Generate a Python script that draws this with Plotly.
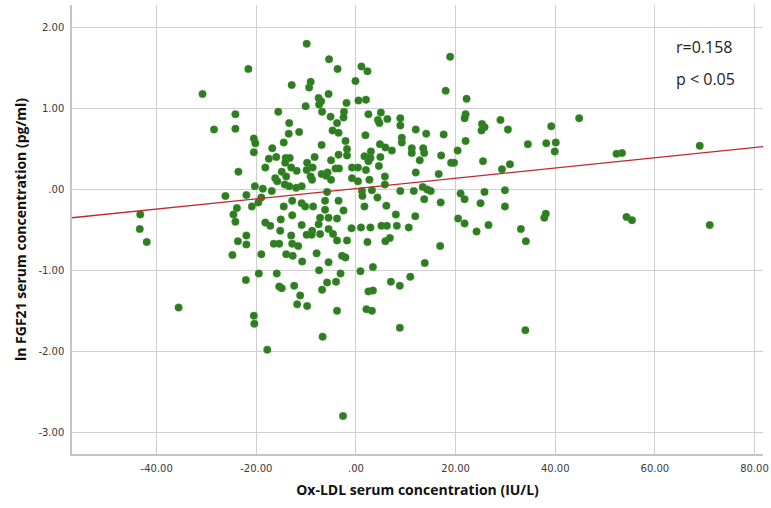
import plotly.graph_objects as go

# Ox-LDL serum concentration (IU/L) and ln FGF21 (pg/ml)
ox_ldl = [
    -9.9, -5.4, -3.7, -21.6, 1.1, 2.3, -0.1, -12.9, -9.1, -9.4, -30.8, -5.5, -7.5, -7.0, -7.4, -10.1,
    -1.9, 0.5, 2.0, -6.8, -15.6, -24.2, -2.4, -2.5, -5.1, 2.5, 5.0, 4.4, 6.3, 8.9, 8.9, -13.4, -3.8,
    4.7, -28.5, -24.2, -11.4, -13.5, -4.7, -3.5, 1.9, 12.0, -20.5, -20.2, -14.5, -6.9, -2.1, 9.2, 9.2,
    4.8, 5.9, 7.2, 11.2, -20.5, -16.8, -1.8, -1.8, -3.5, 3.0, 1.7, 2.9, 11.2, -16.0, -17.5, -14.1,
    -13.3, -8.3, -5.0, 4.9, 2.5, -9.8, -14.2, -18.2, -23.6, -13.0, -14.9, -11.9, -9.9, -8.7, -6.9,
    -5.7, -4.1, -3.4, -0.8, 0.4, 2.0, 4.6, 12.0, -16.2, -15.8, -14.0, -9.1, -8.8, -6.0, -5.0, -0.8,
    0.4, 2.7, 5.8, 5.8, -20.3, -14.3, -13.4, -12.0, -10.9, -18.7, -16.9, -5.8, 1.2, 3.2, 8.9, 11.6,
    -26.2, -22.0, -19.0, 1.3, 4.3, -19.6, -20.9, -23.9, -14.5, -12.8, -10.9, -10.2, -8.6, -6.2, -3.5,
    -6.2, -2.5, 1.7, 6.1, -24.6, -43.3, -12.8, -7.2, -5.5, -3.8, 8.0, 11.9, -24.2, -18.2, -15.1,
    -43.4, -17.2, -10.9, -7.5, -5.5, -0.9, 1.0, 2.9, 5.1, 6.2, 8.2, 10.6, -15.2, -8.8,
    18.9, 18.0, 22.2, 22.0, 21.8, 25.3, 25.8, 25.2, 29.0, 30.5, 44.8, 39.2, 14.1, 17.6, 22.0, 34.5,
    38.2, 40.1, 39.9, 13.5, 13.7, 12.8, 17.1, 20.4, 19.1, 19.7, 25.5, 30.9, 29.3, 16.6, 52.3, 53.4,
    69.0, 13.4, 14.3, 15.0, 13.7, 17.0, 21.0, 21.8, 25.8, 29.9, 25.0, 29.9, 20.5, 21.8, 24.2, 26.6,
    33.1, 37.8, 38.1, 54.3, 55.4, 71.0,
    -42.0, -22.0, -23.7, -22.0, -24.8, -19.0, -16.5, -15.4, -13.0, -12.8, -11.6, -14.0, -12.7, -10.8,
    -9.9, -8.9, -7.2, -4.6, -7.9, -5.5, -3.8, -2.8, -2.1, -1.8, 2.3, 5.9, 6.8, -22.1, -19.5, -15.9,
    -15.4, -14.9, -12.4, -11.2, -11.8, -9.8, -7.4, -6.8, -5.8, -4.0, -3.1, -3.8, -6.7, 0.9, 3.4, 2.5,
    3.4, 2.1, 3.2, 7.0, 8.8, 10.9, 8.8, -35.6, -20.5, -20.4, -17.8, -2.6,
    34.1, 16.9, 13.8, 34.0,
]
ln_fgf21 = [
    1.80, 1.61, 1.49, 1.49, 1.52, 1.46, 1.34, 1.29, 1.33, 1.26, 1.18, 1.18, 1.13, 1.09, 1.05, 1.03,
    1.07, 1.10, 1.11, 0.96, 0.96, 0.93, 0.96, 0.89, 0.90, 0.93, 0.95, 0.86, 0.87, 0.88, 0.79, 0.82, 0.82,
    0.82, 0.74, 0.75, 0.71, 0.69, 0.73, 0.70, 0.67, 0.74, 0.63, 0.57, 0.58, 0.55, 0.60, 0.64, 0.58,
    0.56, 0.52, 0.48, 0.51, 0.46, 0.51, 0.50, 0.42, 0.43, 0.47, 0.41, 0.39, 0.45, 0.40, 0.38, 0.39,
    0.39, 0.40, 0.36, 0.40, 0.35, 0.33, 0.33, 0.27, 0.22, 0.27, 0.22, 0.23, 0.24, 0.27, 0.19,
    0.21, 0.26, 0.26, 0.27, 0.27, 0.24, 0.29, 0.21, 0.14, 0.10, 0.16, 0.16, 0.12, 0.17, 0.12, 0.14,
    0.10, 0.12, 0.16, 0.06, 0.04, 0.06, 0.04, 0.02, 0.04, 0.01, -0.02, -0.03, -0.02, -0.01, -0.02, -0.02,
    -0.08, -0.07, -0.10, -0.08, -0.10, -0.16, -0.21, -0.23, -0.21, -0.14, -0.17, -0.21, -0.21, -0.14, -0.14,
    -0.25, -0.26, -0.21, -0.20, -0.31, -0.31, -0.32, -0.35, -0.35, -0.36, -0.31, -0.33, -0.40, -0.41, -0.37,
    -0.49, -0.45, -0.44, -0.43, -0.49, -0.48, -0.47, -0.47, -0.45, -0.45, -0.45, -0.47, -0.51, -0.51,
    1.64, 1.22, 1.12, 0.93, 0.88, 0.81, 0.77, 0.73, 0.86, 0.74, 0.88, 0.78, 0.69, 0.68, 0.60, 0.56,
    0.57, 0.58, 0.47, 0.51, 0.45, 0.36, 0.42, 0.48, 0.33, 0.33, 0.35, 0.31, 0.25, 0.19, 0.44, 0.45,
    0.54, 0.03, 0.00, -0.02, -0.12, -0.16, -0.05, -0.12, -0.03, -0.01, -0.17, -0.21, -0.36, -0.42, -0.52, -0.44,
    -0.49, -0.35, -0.30, -0.34, -0.38, -0.44,
    -0.65, -0.57, -0.64, -0.68, -0.81, -0.80, -0.67, -0.67, -0.57, -0.67, -0.70, -0.80, -0.82, -0.89,
    -0.56, -0.56, -0.55, -0.55, -0.79, -0.90, -0.63, -0.82, -0.84, -0.63, -0.65, -0.64, -0.60, -1.12, -1.04, -1.04,
    -1.20, -1.22, -1.19, -1.31, -1.42, -1.44, -1.00, -1.24, -1.15, -1.14, -1.04, -1.50, -1.82, -1.01, -0.96, -1.26,
    -1.25, -1.48, -1.50, -1.14, -1.19, -1.08, -1.71, -1.46, -1.56, -1.66, -1.98, -2.80,
    -0.64, -0.70, -0.91, -1.74,
]

# Fit line end points
fit_x = [-57.0, 81.8]
fit_y = [-0.35, 0.53]

x_ticks = [-40, -20, 0, 20, 40, 60, 80]
x_tick_labels = ["-40.00", "-20.00", ".00", "20.00", "40.00", "60.00", "80.00"]
y_ticks = [2, 1, 0, -1, -2, -3]
y_tick_labels = ["2.00", "1.00", ".00", "-1.00", "-2.00", "-3.00"]

annotation_lines = ["r=0.158", "p < 0.05"]

fig = go.Figure()
fig.add_trace(go.Scatter(
    x=ox_ldl, y=ln_fgf21, mode="markers",
    marker=dict(color="#2f7d21", size=7.5, line=dict(color="#3f8f30", width=0.5)),
    showlegend=False, hoverinfo="x+y",
))
fig.add_trace(go.Scatter(
    x=fit_x, y=fit_y, mode="lines",
    line=dict(color="#c2282d", width=1.3),
    showlegend=False, hoverinfo="skip",
))

grid_col = "#cfcfcf"
fig.update_layout(
    width=771, height=508,
    margin=dict(l=72, r=8, t=5, b=54),
    paper_bgcolor="white", plot_bgcolor="white",
    font=dict(family="DejaVu Sans", color="#333333"),
    xaxis=dict(
        range=[-57.0, 81.7], tickvals=x_ticks, ticktext=x_tick_labels,
        tickfont=dict(size=10, color="#3a3a3a", family="DejaVu Sans"),
        showgrid=True, gridcolor=grid_col, gridwidth=1,
        showline=True, linecolor="#c4c4c4", linewidth=1.5,
        zeroline=False, ticks="", ticklabelstandoff=4,
        title=dict(text="Ox-LDL serum concentration (IU/L)",
                   font=dict(family="Open Sans", size=14, color="#111111", weight="bold"),
                   standoff=12),
        automargin=False,
    ),
    yaxis=dict(
        range=[-3.27, 2.28], tickvals=y_ticks, ticktext=y_tick_labels,
        tickfont=dict(size=10, color="#3a3a3a", family="DejaVu Sans"),
        showgrid=True, gridcolor=grid_col, gridwidth=1,
        showline=True, linecolor="#c4c4c4", linewidth=1.5,
        zeroline=False, ticks="", ticklabelstandoff=4,
        title=dict(text="ln FGF21 serum concentration (pg/ml)",
                   font=dict(family="Open Sans", size=14, color="#111111", weight="bold"),
                   standoff=8),
        automargin=False,
    ),
    annotations=[
        dict(xref="paper", yref="paper", x=(704 - 72) / 691, y=(454 - 47) / 449,
             xanchor="center", yanchor="middle",
             text=annotation_lines[0], showarrow=False,
             font=dict(family="Open Sans", size=16, color="#222222")),
        dict(xref="paper", yref="paper", x=(705 - 72) / 691, y=(454 - 79) / 449,
             xanchor="center", yanchor="middle",
             text=annotation_lines[1], showarrow=False,
             font=dict(family="Open Sans", size=16, color="#222222")),
    ],
)

fig.write_html("out.html", config={"displayModeBar": False},
               post_script="document.body.style.margin='0';document.body.style.overflow='hidden';")
